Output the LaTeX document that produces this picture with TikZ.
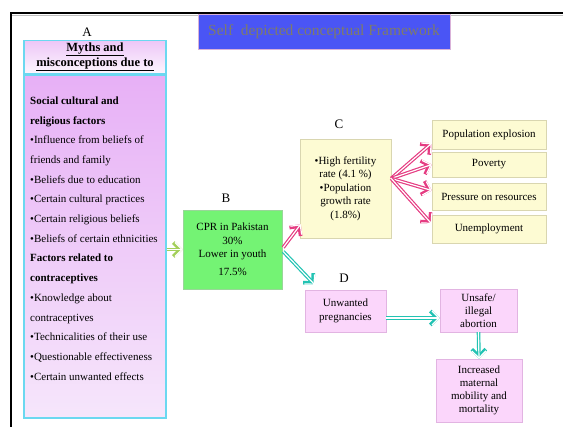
\documentclass[tikz,border=0pt]{standalone}
\usepackage{fontspec}
\setmainfont{Liberation Serif}
\usetikzlibrary{shadows,arrows.meta,calc}
\definecolor{titleblue}{HTML}{4A55F5}
\definecolor{titlegray}{HTML}{7F7C68}
\definecolor{cyanb}{HTML}{6BD8F0}
\definecolor{pinktop}{HTML}{E7B0F6}
\definecolor{pinkbot}{HTML}{F6E6FB}
\definecolor{headtop}{HTML}{EDC6F7}
\definecolor{headbot}{HTML}{FCF6FE}
\definecolor{greenb}{HTML}{74F374}
\definecolor{creamf}{HTML}{FDFBD3}
\definecolor{creamd}{HTML}{D9D6B0}
\definecolor{pinkd}{HTML}{FBD6FB}
\definecolor{pinkdd}{HTML}{E2B4E2}
\definecolor{arrpink}{HTML}{E53C82}
\definecolor{arrteal}{HTML}{22C3B3}
\definecolor{arrgreen}{HTML}{A3CF5A}
\begin{document}
\begin{tikzpicture}[x=1pt,y=-1pt,
  every node/.style={font=\fontsize{11}{13.5}\selectfont, inner sep=1pt},
  shad/.style={drop shadow={shadow xshift=1.3pt,shadow yshift=-1.3pt,opacity=0.35}},
  box/.style={rectangle, align=center, shad},
  cream/.style={box, fill=creamf, draw=creamd, line width=0.4pt},
  pinkbox/.style={box, fill=pinkd, draw=pinkdd, line width=0.4pt},
  lbl/.style={font=\fontsize{13}{15}\selectfont},
  dbl/.style={preaction={draw=#1, line width=3.6pt,
      -{Straight Barb[length=7pt,width=14pt]}},
    draw=white, line width=1.2pt,
    -{Straight Barb[length=7pt,width=14pt]}},
  parrow/.style={dbl=arrpink},
  tarrow/.style={dbl=arrteal},
  garrow/.style={dbl=arrgreen}
]
\useasboundingbox (0,0) rectangle (563,427);
% frame
\draw[black!25, line width=1.5pt] (12,15.5) -- (563,15.5);
\draw[line width=2.2pt] (11,427) -- (11,13) -- (563,13);

% title
\node[rectangle, fill=titleblue, draw=violet!30, line width=0.5pt,
  minimum width=252pt, minimum height=35pt, text=titlegray,
  font=\fontsize{15.5}{17}\selectfont] (title) at (324,31.5)
  {Self\ \ depicted conceptual Framework};

% A
\node[lbl] (la) at (87,32) {A};
\node[box, top color=headtop, bottom color=headbot, draw=cyanb, line width=1.2pt,
  minimum width=142pt, minimum height=33pt,
  font=\fontsize{12.5}{15}\selectfont\bfseries] (ahead) at (95,57)
  {\underline{Myths and}\\\underline{misconceptions due to}};
\node[box, top color=pinktop, bottom color=pinkbot, draw=cyanb, line width=1.2pt,
  minimum width=142pt, minimum height=343pt] (abody) at (95,246.5) {};
\node[anchor=north west, align=left, inner sep=0pt,
  font=\fontsize{11}{19.7}\selectfont] (atext) at (30,96.5)
  {\textbf{Social cultural and}\\
   \textbf{religious factors}\\
   •Influence from beliefs of\\
   friends and family\\
   •Beliefs due to education\\
   •Certain cultural practices\\
   •Certain religious beliefs\\
   •Beliefs of certain ethnicities\\
   \textbf{Factors related to}\\
   \textbf{contraceptives}\\
   •Knowledge about\\
   contraceptives\\
   •Technicalities of their use\\
   •Questionable effectiveness\\
   •Certain unwanted effects};

% B
\node[lbl] (lb) at (226,198) {B};
\node[box, fill=greenb, draw=green!60!black!40, line width=0.4pt,
  minimum width=99pt, minimum height=79pt] (b) at (232.5,249.5)
  {CPR in Pakistan\\30\%\\Lower in youth\\[4.5pt]17.5\%};

% C
\node[lbl] (lc) at (339,124) {C};
\node[cream, minimum width=91pt, minimum height=99pt] (c) at (345.5,188.5)
  {•High fertility\\rate (4.1 \%)\\•Population\\growth rate\\(1.8\%)};

% right boxes
\node[cream, minimum width=114pt, minimum height=29pt] (e1) at (489,134.5) {Population explosion};
\node[cream, minimum width=114pt, minimum height=25pt] (e2) at (489,164.5) {Poverty};
\node[cream, minimum width=114pt, minimum height=27pt] (e3) at (489,196.5) {Pressure on resources};
\node[cream, minimum width=114pt, minimum height=28pt] (e4) at (489,229) {Unemployment};

% D
\node[lbl] (ld) at (344,278) {D};
\node[pinkbox, minimum width=81pt, minimum height=42pt,
  font=\fontsize{11}{14.5}\selectfont] (d1) at (345.5,311) {Unwanted\\pregnancies};
\node[pinkbox, minimum width=77pt, minimum height=43pt,
  font=\fontsize{11}{13}\selectfont] (d2) at (478.5,310.5) {Unsafe/\\illegal\\abortion};
\node[pinkbox, minimum width=86pt, minimum height=63pt,
  font=\fontsize{11}{12.8}\selectfont] (d3) at (479,390.5) {Increased\\maternal\\mobility and\\mortality};

% arrows
\draw[garrow] (abody.east |- b.west) -- (b.west);
\draw[parrow] ($(b.east)+(1,-2)$) -- ($(c.south west)+(1,-14)$);
\draw[tarrow] ($(b.east)+(1,2)$) -- ($(d1.north west)+(10,-5)$);
\draw[parrow] ($(c.east)+(0,-10)$) -- ($(e1.south west)+(0,-6)$);
\draw[parrow] ($(c.east)+(0,-10)$) -- (e2.west);
\draw[parrow] ($(c.east)+(0,-10)$) -- ($(e3.west)+(0,-6)$);
\draw[parrow] ($(c.east)+(0,-10)$) -- ($(e4.west)+(0,-5)$);
\draw[tarrow] ($(d1.east)+(0,7)$) -- ($(d2.west)+(0,7.5)$);
\draw[tarrow] (d2.south) -- (d3.north);
\end{tikzpicture}
\end{document}
